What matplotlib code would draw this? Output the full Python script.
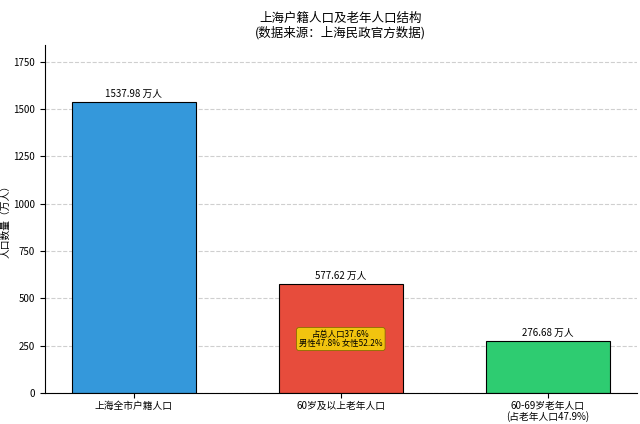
import matplotlib
matplotlib.use("Agg")
import matplotlib.pyplot as plt

plt.rcParams['font.family'] = ['Noto Sans CJK SC', 'DejaVu Sans']

categories = ['上海全市户籍人口', '60岁及以上老年人口', '60-69岁老年人口\n(占老年人口47.9%)']
values = [1537.98, 577.62, 276.68]
colors = ['#3498db', '#e74c3c', '#2ecc71']

fig, ax = plt.subplots(figsize=(6.4, 4.24), dpi=100)
bars = ax.bar(range(3), values, color=colors, edgecolor='black', linewidth=0.8, width=0.6)
for i, v in enumerate(values):
    ax.text(i, v + 15, f'{v:.2f} 万人', ha='center', va='bottom', fontsize=7)
ax.text(1, 285, '占总人口37.6%\n男性47.8% 女性52.2%', ha='center', va='center', fontsize=6,
        linespacing=1.0,
        bbox=dict(boxstyle='round,pad=0.3', fc='#f1c40f', ec='#8a6d00', lw=0.6))
ax.set_xticks(range(3))
ax.set_xticklabels(categories, fontsize=7, linespacing=1.0)
ax.tick_params(axis='x', pad=2)
ax.set_ylim(0, 1840)
ax.set_yticks(range(0, 1751, 250))
ax.tick_params(axis='y', labelsize=7)
ax.set_ylabel('人口数量（万人）', fontsize=7, labelpad=2)
ax.set_title('上海户籍人口及老年人口结构\n(数据来源：上海民政官方数据)', fontsize=9, linespacing=1.1)
ax.yaxis.grid(True, linestyle='--', alpha=0.6)
ax.set_axisbelow(True)
ax.spines['top'].set_visible(False)
ax.spines['right'].set_visible(False)
fig.subplots_adjust(left=0.07, right=0.995, top=0.895, bottom=0.073)
fig.savefig('out.png')
